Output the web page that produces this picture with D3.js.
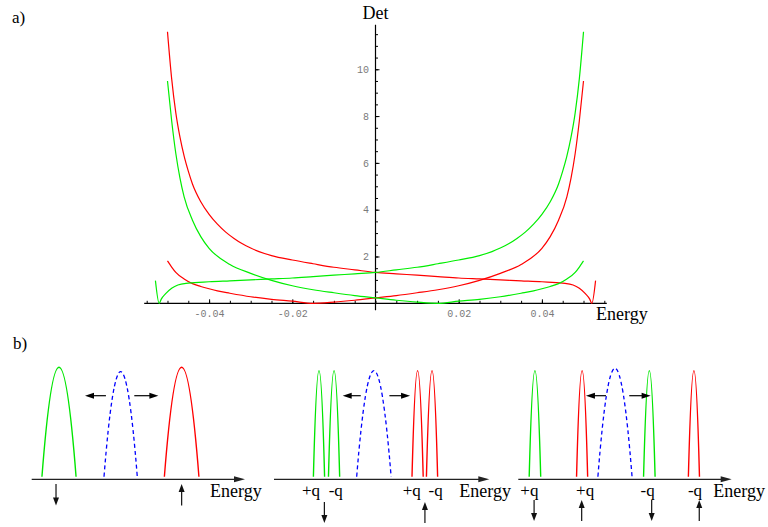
<!DOCTYPE html>
<html>
<head>
<meta charset="utf-8">
<script src="https://cdn.jsdelivr.net/npm/d3@7"></script>
<style>
  body { margin: 0; background: #fff; }
  svg { display: block; }
</style>
</head>
<body>
<div id="chart"></div>
<script>
// ---- panel a) data : determinant vs energy ----
const energyRed1 = [-0.050,-0.049,-0.048,-0.047,-0.046,-0.045,-0.044,-0.042,-0.040,-0.038,-0.036,-0.034,-0.032,-0.030,-0.028,-0.025,-0.020,-0.015,-0.010,-0.005,0,0.005,0.010,0.015,0.020,0.025,0.030,0.035,0.040,0.045,0.0475,0.049,0.0505,0.0515,0.052,0.0529];
const detRed1 = [11.6,9.6,8.14,7.1,6.29,5.65,5.1,4.34,3.80,3.38,3.04,2.77,2.54,2.36,2.21,2.04,1.85,1.69,1.54,1.43,1.32,1.26,1.20,1.14,1.08,1.04,1.00,0.96,0.92,0.86,0.78,0.64,0.40,0.18,0.0,0.97];

const energyGreen1 = [-0.0529,-0.052,-0.0515,-0.0505,-0.049,-0.0475,-0.045,-0.040,-0.035,-0.030,-0.025,-0.020,-0.015,-0.010,-0.005,0,0.005,0.010,0.015,0.020,0.025,0.028,0.030,0.032,0.034,0.036,0.038,0.040,0.042,0.044,0.045,0.046,0.047,0.048,0.049,0.050];
const detGreen1 = [0.97,0.0,0.18,0.40,0.64,0.78,0.86,0.92,0.96,1.00,1.04,1.08,1.14,1.20,1.26,1.32,1.43,1.54,1.69,1.85,2.04,2.21,2.36,2.54,2.77,3.04,3.38,3.80,4.34,5.1,5.65,6.29,7.1,8.14,9.6,11.6];

const energyRed2 = [-0.050,-0.049,-0.048,-0.046,-0.044,-0.042,-0.040,-0.038,-0.035,-0.030,-0.025,-0.020,-0.015,-0.010,-0.005,0,0.005,0.010,0.015,0.020,0.025,0.030,0.035,0.040,0.042,0.044,0.046,0.047,0.048,0.049,0.050];
const detRed2 = [1.81,1.55,1.32,1.04,0.84,0.72,0.62,0.53,0.43,0.28,0.17,0.09,0.0,0.05,0.13,0.23,0.33,0.45,0.58,0.75,0.98,1.28,1.66,2.35,2.85,3.55,4.55,5.35,6.4,7.8,9.5];

const energyGreen2 = [-0.050,-0.049,-0.048,-0.047,-0.046,-0.044,-0.042,-0.040,-0.035,-0.030,-0.025,-0.020,-0.015,-0.010,-0.005,0,0.005,0.010,0.015,0.020,0.025,0.030,0.035,0.038,0.040,0.042,0.044,0.046,0.048,0.049,0.050];
const detGreen2 = [9.5,7.8,6.4,5.35,4.55,3.55,2.85,2.35,1.66,1.28,0.98,0.75,0.58,0.45,0.33,0.23,0.13,0.05,0.0,0.09,0.17,0.28,0.43,0.53,0.62,0.72,0.84,1.04,1.32,1.55,1.81];

const xTickValues = [-0.04, -0.02, 0.02, 0.04];
const xTickLabels = ["-0.04", "-0.02", "0.02", "0.04"];
const yTickValues = [2, 4, 6, 8, 10];
const yTickLabels = ["2", "4", "6", "8", "10"];

// ---- panel b) data : schematic bands (x in 0..100 units along each axis) ----
// spin: "down" = green, "up" = red, "none" = dashed blue
const peaksA = [
  {c: 12.8, w: 8.0, h: 1.0, spin: "down"},
  {c: 41.7, w: 7.8, h: 0.96, spin: "none"},
  {c: 70.3, w: 8.1, h: 1.0, spin: "up"}
];
const peaksB = [
  {c: 20.9, w: 2.6, h: 0.97, spin: "down"},
  {c: 27.9, w: 2.6, h: 0.97, spin: "down"},
  {c: 46.4, w: 8.0, h: 0.97, spin: "none"},
  {c: 66.7, w: 2.6, h: 0.97, spin: "up"},
  {c: 73.4, w: 2.6, h: 0.97, spin: "up"}
];
const peaksC = [
  {c: 7.8, w: 2.7, h: 0.97, spin: "down"},
  {c: 29.9, w: 2.6, h: 0.97, spin: "up"},
  {c: 45.3, w: 8.0, h: 0.99, spin: "none"},
  {c: 61.4, w: 2.7, h: 0.97, spin: "down"},
  {c: 82.3, w: 2.6, h: 0.97, spin: "up"}
];
const shiftsA = [[34.8, 25.0], [48.1, 59.4]];
const shiftsB = [[40.3, 31.9], [53.6, 63.2]];
const shiftsC = [[41.1, 31.7], [52.0, 62.0]];
const spinsA = [{at: 11.4, dir: "down"}, {at: 70.3, dir: "up"}];
const spinsB = [{at: 23.4, dir: "down"}, {at: 70.1, dir: "up"}];
const spinsC = [{at: 7.4, dir: "down"}, {at: 29.7, dir: "up"}, {at: 62.5, dir: "down"}, {at: 84.8, dir: "up"}];
const qLabelsA = [];
const qLabelsB = [{at: 17.2, text: "+q"}, {at: 28.7, text: "-q"}, {at: 64.0, text: "+q"}, {at: 75.1, text: "-q"}];
const qLabelsC = [{at: 5.2, text: "+q"}, {at: 31.3, text: "+q"}, {at: 60.6, text: "-q"}, {at: 82.8, text: "-q"}];
const energyLabelAt = [83.6, 86.1, 91.4];

const serif = "'Liberation Serif', 'Times New Roman', serif";
const mono = "'Liberation Mono', 'Courier New', monospace";

const svg = d3.select("#chart").append("svg")
  .attr("width", 768)
  .attr("height", 527);

svg.append("rect").attr("width", 768).attr("height", 527).attr("fill", "#fff");

// ================= panel a =================
const x = d3.scaleLinear().domain([-0.0556, 0.0556]).range([144.2, 606.8]);
const y = d3.scaleLinear().domain([0, 11.9]).range([303.3, 24.8]);

const ga = svg.append("g");

// minor ticks
ga.append("g")
  .attr("transform", "translate(0," + y(0) + ")")
  .call(d3.axisBottom(x).tickValues(d3.range(-11, 12).map(d => d * 0.005)).tickSize(-2.5).tickFormat(""))
  .call(g => g.select(".domain").remove())
  .selectAll("line").attr("stroke", "#000");

ga.append("g")
  .attr("transform", "translate(" + x(0) + ",0)")
  .call(d3.axisLeft(y).tickValues(d3.range(1, 24).map(d => d * 0.5)).tickSize(-2.5).tickFormat(""))
  .call(g => g.select(".domain").remove())
  .selectAll("line").attr("stroke", "#000");

// major ticks + labels
const xAxis = ga.append("g")
  .attr("transform", "translate(0," + y(0) + ")")
  .call(d3.axisBottom(x).tickValues(xTickValues).tickSize(-4).tickPadding(7)
    .tickFormat((d, i) => xTickLabels[i]))
  .call(g => g.select(".domain").remove());
xAxis.selectAll("line").attr("stroke", "#000");
xAxis.selectAll("text")
  .attr("font-family", mono)
  .attr("font-size", 10)
  .attr("fill", "#7a7a7a");

const yAxis = ga.append("g")
  .attr("transform", "translate(" + x(0) + ",0)")
  .call(d3.axisLeft(y).tickValues(yTickValues).tickSize(-4).tickPadding(6.5)
    .tickFormat((d, i) => yTickLabels[i]))
  .call(g => g.select(".domain").remove());
yAxis.selectAll("line").attr("stroke", "#000");
yAxis.selectAll("text")
  .attr("font-family", mono)
  .attr("font-size", 10)
  .attr("fill", "#7a7a7a");

// axis lines
ga.append("line")
  .attr("x1", x.range()[0]).attr("x2", x.range()[1])
  .attr("y1", y(0)).attr("y2", y(0))
  .attr("stroke", "#000").attr("stroke-width", 1.2);
ga.append("line")
  .attr("x1", x(0)).attr("x2", x(0))
  .attr("y1", y.range()[1]).attr("y2", y(0) + 7)
  .attr("stroke", "#000").attr("stroke-width", 1.2);

// curves
const curves = [
  {e: energyRed1, v: detRed1, color: "#ff0000"},
  {e: energyRed2, v: detRed2, color: "#ff0000"},
  {e: energyGreen1, v: detGreen1, color: "#00ee00"},
  {e: energyGreen2, v: detGreen2, color: "#00ee00"}
];

const line = d3.line()
  .x(d => x(d[0]))
  .y(d => y(d[1]))
  .curve(d3.curveMonotoneX);

curves.forEach(c => {
  ga.append("path")
    .attr("d", line(c.e.map((e, i) => [e, c.v[i]])))
    .attr("fill", "none")
    .attr("stroke", c.color)
    .attr("stroke-width", 1.2);
});

ga.append("text")
  .attr("x", x(0)).attr("y", 18.5)
  .attr("text-anchor", "middle")
  .attr("font-family", serif).attr("font-size", 18)
  .text("Det");

ga.append("text")
  .attr("x", 596).attr("y", 319.5)
  .attr("font-family", serif).attr("font-size", 18)
  .text("Energy");

svg.append("text")
  .attr("x", 12).attr("y", 23)
  .attr("font-family", serif).attr("font-size", 17)
  .text("a)");

svg.append("text")
  .attr("x", 13).attr("y", 349)
  .attr("font-family", serif).attr("font-size", 17)
  .text("b)");

// ================= panel b =================
function arrow(g, x1, y1, x2, y2, len, half, color, width) {
  const a = Math.atan2(y2 - y1, x2 - x1);
  const bx = x2 - len * Math.cos(a), by = y2 - len * Math.sin(a);
  g.append("line")
    .attr("x1", x1).attr("y1", y1).attr("x2", bx + Math.cos(a)).attr("y2", by + Math.sin(a))
    .attr("stroke", color).attr("stroke-width", width);
  g.append("polygon")
    .attr("points", [
      [x2, y2],
      [bx + half * Math.sin(a), by - half * Math.cos(a)],
      [bx - half * Math.sin(a), by + half * Math.cos(a)]
    ].map(p => p.join(",")).join(" "))
    .attr("fill", color);
}

const spinColor = {down: "#00e600", up: "#ff0000", none: "#0000ff"};
const panelRanges = [[31.7, 245], [274, 489.3], [518.3, 731.7]];
const panels = [
  {peaks: peaksA, shifts: shiftsA, spins: spinsA, labels: qLabelsA, spinTop: 484, spinBottom: 505.5},
  {peaks: peaksB, shifts: shiftsB, spins: spinsB, labels: qLabelsB, spinTop: 502, spinBottom: 523},
  {peaks: peaksC, shifts: shiftsC, spins: spinsC, labels: qLabelsC, spinTop: 500, spinBottom: 521}
];

const axisY = 479.3;
const by = d3.scaleLinear().domain([0, 1]).range([476.7, 367.3]);

panels.forEach((p, k) => {
  const bx = d3.scaleLinear().domain([0, 100]).range(panelRanges[k]);
  const g = svg.append("g");

  // bands
  p.peaks.forEach(pk => {
    const path = d3.path();
    const x0 = bx(pk.c - pk.w), x1 = bx(pk.c + pk.w);
    path.moveTo(x0, by(0));
    path.quadraticCurveTo(bx(pk.c), by(0) - 2 * (by(0) - by(pk.h)), x1, by(0));
    g.append("path")
      .attr("d", path.toString())
      .attr("fill", "none")
      .attr("stroke", spinColor[pk.spin])
      .attr("stroke-width", pk.spin === "none" ? 1.3 : 1.4)
      .attr("stroke-dasharray", pk.spin === "none" ? "4,3" : null);
  });

  // energy axis
  arrow(g, panelRanges[k][0], axisY, panelRanges[k][1], axisY, 11, 3, "#222", 1.3);

  // shift arrows
  p.shifts.forEach(s => {
    arrow(g, bx(s[0]), 395.7, bx(s[1]), 395.7, 9, 3, "#000", 1.2);
  });

  // spin arrows
  p.spins.forEach(s => {
    if (s.dir === "down") {
      arrow(g, bx(s.at), p.spinTop, bx(s.at), p.spinBottom, 8, 3, "#111", 1.2);
    } else {
      arrow(g, bx(s.at), p.spinBottom, bx(s.at), p.spinTop, 8, 3, "#111", 1.2);
    }
  });

  // q labels
  g.selectAll("text.q")
    .data(p.labels)
    .enter()
    .append("text")
    .attr("class", "q")
    .attr("x", d => bx(d.at))
    .attr("y", 496)
    .attr("text-anchor", "middle")
    .attr("font-family", serif).attr("font-size", 17)
    .text(d => d.text);

  g.append("text")
    .attr("x", bx(energyLabelAt[k]))
    .attr("y", 496.7)
    .attr("font-family", serif).attr("font-size", 18)
    .text("Energy");
});
</script>
</body>
</html>
